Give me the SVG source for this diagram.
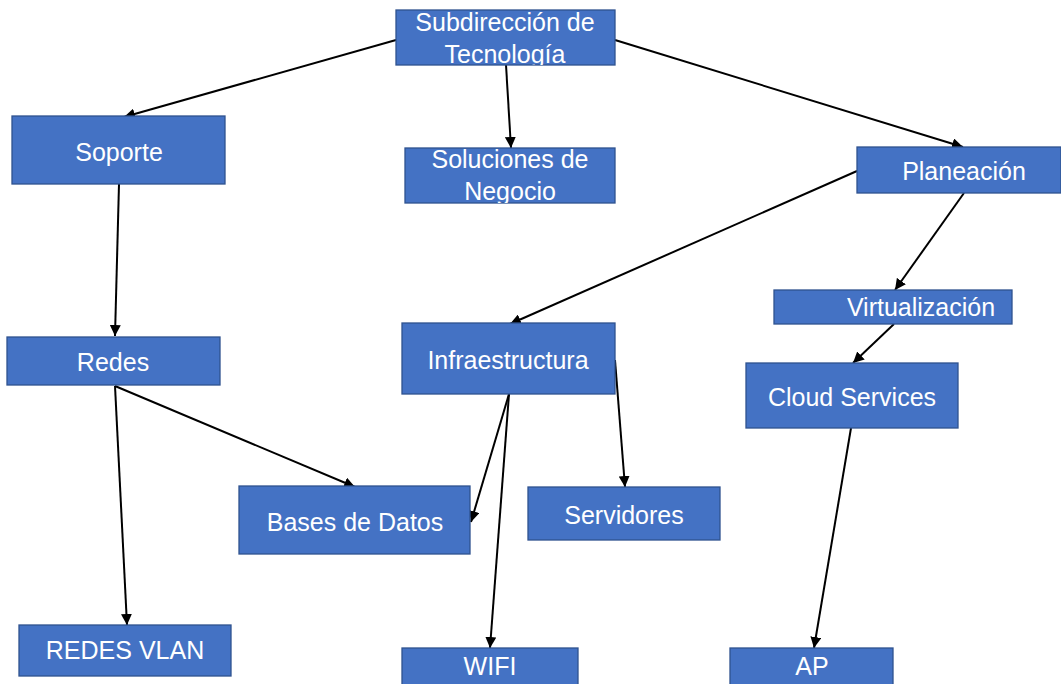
<svg xmlns="http://www.w3.org/2000/svg" width="1061" height="684" viewBox="0 0 1061 684">
<style>
.box{fill:#4472C4;stroke:#2F528F;stroke-width:1.3}
.t{fill:#fff;font-family:"Liberation Sans",Arial,sans-serif;font-size:25px;text-anchor:middle}
.c{stroke:#000;stroke-width:2;fill:none;marker-end:url(#ah)}
</style>
<defs>
<marker id="ah" viewBox="0 0 10 10" refX="10" refY="5" markerWidth="5.5" markerHeight="5.5" orient="auto" markerUnits="strokeWidth">
<path d="M0,0 L10,5 L0,10 z" fill="#000"/>
</marker>
<clipPath id="c1"><rect x="396" y="10" width="219" height="55"/></clipPath>
<clipPath id="c2"><rect x="405" y="148" width="210" height="55"/></clipPath>
</defs>
<rect width="1061" height="684" fill="#fff"/>
<g id="connectors">
<line class="c" x1="396" y1="40" x2="124" y2="117"/>
<line class="c" x1="506" y1="65" x2="511" y2="148"/>
<line class="c" x1="615" y1="40" x2="963" y2="147"/>
<line class="c" x1="119" y1="184" x2="115" y2="336"/>
<line class="c" x1="857" y1="171" x2="510" y2="324"/>
<line class="c" x1="964" y1="193" x2="895" y2="290"/>
<line class="c" x1="894" y1="324" x2="853" y2="363"/>
<line class="c" x1="115" y1="386" x2="355" y2="487"/>
<line class="c" x1="115" y1="386" x2="127" y2="625"/>
<line class="c" x1="509" y1="394" x2="471" y2="522"/>
<line class="c" x1="509" y1="394" x2="490" y2="648"/>
<line class="c" x1="615" y1="360" x2="625" y2="487"/>
<line class="c" x1="851" y1="428" x2="814" y2="648"/>
</g>
<g id="subdireccion">
<rect class="box" x="396" y="10" width="219" height="55"/>
<g clip-path="url(#c1)"><text class="t" x="505" y="31">Subdirección de</text><text class="t" x="505" y="63">Tecnología</text></g>
</g>
<g id="soporte"><rect class="box" x="12" y="116" width="213" height="68"/><text class="t" x="119" y="161">Soporte</text></g>
<g id="soluciones">
<rect class="box" x="405" y="148" width="210" height="55"/>
<g clip-path="url(#c2)"><text class="t" x="510" y="168">Soluciones de</text><text class="t" x="510" y="200">Negocio</text></g>
</g>
<g id="planeacion"><rect class="box" x="857" y="147" width="204" height="46"/><text class="t" x="964" y="180">Planeación</text></g>
<g id="virtualizacion"><rect class="box" x="774" y="290" width="238" height="34"/><text class="t" x="921" y="316">Virtualización</text></g>
<g id="redes"><rect class="box" x="7" y="337" width="213" height="48"/><text class="t" x="113" y="371">Redes</text></g>
<g id="infraestructura"><rect class="box" x="402" y="323" width="213" height="71"/><text class="t" x="508" y="369">Infraestructura</text></g>
<g id="cloud"><rect class="box" x="746" y="363" width="212" height="65"/><text class="t" x="852" y="406">Cloud Services</text></g>
<g id="bases"><rect class="box" x="239" y="486" width="231" height="68"/><text class="t" x="355" y="531">Bases de Datos</text></g>
<g id="servidores"><rect class="box" x="528" y="487" width="192" height="53"/><text class="t" x="624" y="524">Servidores</text></g>
<g id="vlan"><rect class="box" x="19" y="625" width="212" height="51"/><text class="t" x="125" y="659">REDES VLAN</text></g>
<g id="wifi"><rect class="box" x="402" y="648" width="176" height="40"/><text class="t" x="490" y="675">WIFI</text></g>
<g id="ap"><rect class="box" x="730" y="648" width="163" height="40"/><text class="t" x="812" y="675">AP</text></g>
</svg>
